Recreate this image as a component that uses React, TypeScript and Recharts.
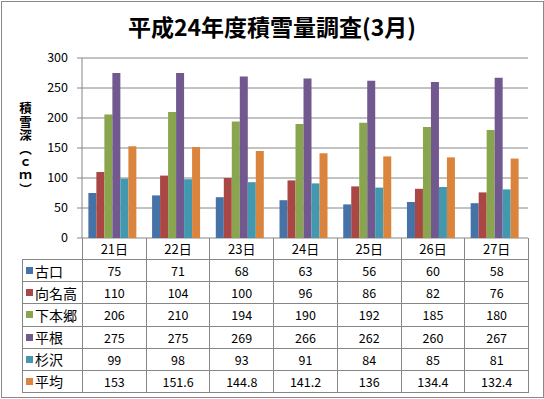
import React from "react";
import { BarChart, Bar, XAxis, YAxis, CartesianGrid } from "recharts";

const days = ["21日", "22日", "23日", "24日", "25日", "26日", "27日"];
const furukuchi = [75, 71, 68, 63, 56, 60, 58];
const mukainadaka = [110, 104, 100, 96, 86, 82, 76];
const shimohongo = [206, 210, 194, 190, 192, 185, 180];
const hirane = [275, 275, 269, 266, 262, 260, 267];
const sugisawa = [99, 98, 93, 91, 84, 85, 81];
const heikin = [153, 151.6, 144.8, 141.2, 136, 134.4, 132.4];
const yTicks = [0, 50, 100, 150, 200, 250, 300];

const series = [
  { key: "古口", values: furukuchi, color: "#4572A7" },
  { key: "向名高", values: mukainadaka, color: "#AA4643" },
  { key: "下本郷", values: shimohongo, color: "#89A54E" },
  { key: "平根", values: hirane, color: "#71588F" },
  { key: "杉沢", values: sugisawa, color: "#4198AF" },
  { key: "平均", values: heikin, color: "#DB843D" },
];

const data = days.map((d, i) => {
  const row: Record<string, string | number> = { day: d };
  series.forEach((s) => (row[s.key] = s.values[i]));
  return row;
});

const FONT = '"Noto Sans CJK JP", "Noto Sans", sans-serif';
const LINE = "1px solid #868686";

const DataTable = () => {
  const cells: React.ReactNode[] = [];
  cells.push(<div key="corner" style={{ borderRight: LINE, borderBottom: LINE }} />);
  days.forEach((d) => {
    cells.push(
      <div key={"h" + d} style={{ borderRight: LINE, borderBottom: LINE, display: "flex", alignItems: "center", justifyContent: "center", fontSize: 13 }}>
        {d}
      </div>
    );
  });
  series.forEach((s) => {
    cells.push(
      <div key={"l" + s.key} style={{ borderLeft: LINE, borderRight: LINE, borderBottom: LINE, display: "flex", alignItems: "center", paddingLeft: 3, fontSize: 14 }}>
        <span style={{ width: 7, height: 7, background: s.color, display: "inline-block", marginRight: 2 }} />
        {s.key}
      </div>
    );
    s.values.forEach((v, i) => {
      cells.push(
        <div key={s.key + i} style={{ borderRight: LINE, borderBottom: LINE, display: "flex", alignItems: "center", justifyContent: "center", fontSize: 12.5 }}>
          {v}
        </div>
      );
    });
  });
  return (
    <div
      style={{
        position: "absolute",
        left: 22,
        top: 238,
        width: 507,
        height: 155,
        display: "grid",
        gridTemplateColumns: "61px repeat(7, 1fr)",
        gridTemplateRows: "repeat(7, 1fr)",
        fontFamily: FONT,
        color: "#000",
        boxSizing: "border-box",
      }}
    >
      {cells}
    </div>
  );
};

export default function App() {
  return (
    <div style={{ position: "absolute", left: 0, top: 0, width: 544, height: 399, background: "#fff", fontFamily: FONT }}>
      <div style={{ position: "absolute", left: 1, top: 1, width: 541, height: 395, border: "1px solid #898989" }} />
      <div style={{ position: "absolute", left: 0, top: 9, width: 544, textAlign: "center", fontSize: 23, fontWeight: 700, lineHeight: "34px" }}>
        平成24年度積雪量調査(3月)
      </div>
      <div
        style={{
          position: "absolute",
          left: 17,
          top: 102,
          writingMode: "vertical-rl",
          fontSize: 12.5,
          fontWeight: 700,
          lineHeight: "16px",
          letterSpacing: "1px",
        }}
      >
        積雪深（ｃｍ）
      </div>
      <div style={{ position: "absolute", left: 0, top: 0 }}>
        <BarChart
          width={544}
          height={399}
          data={data}
          margin={{ top: 58, right: 16, left: 0, bottom: 161 }}
          barCategoryGap="10%"
          barGap={0}
        >
          <CartesianGrid vertical={false} stroke="#868686" />
          <XAxis dataKey="day" hide />
          <YAxis
            width={82}
            domain={[0, 300]}
            ticks={yTicks}
            interval={0}
            axisLine={{ stroke: "#868686" }}
            tickLine={{ stroke: "#868686" }}
            tickSize={5}
            tickMargin={9}
            tick={{ fill: "#000", fontSize: 12.5, fontFamily: FONT }}
          />
          {series.map((s) => (
            <Bar key={s.key} dataKey={s.key} fill={s.color} isAnimationActive={false} />
          ))}
        </BarChart>
      </div>
      <DataTable />
    </div>
  );
}
